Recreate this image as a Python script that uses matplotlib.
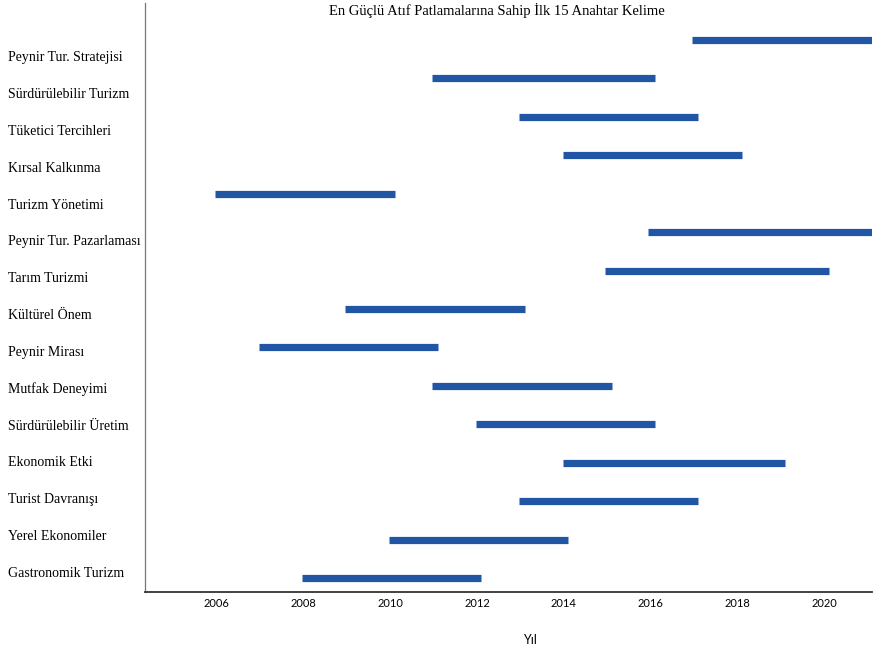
import matplotlib
matplotlib.use("Agg")
import matplotlib.pyplot as plt
import numpy as np

keywords = ['Peynir Tur. Stratejisi', 'Sürdürülebilir Turizm', 'Tüketici Tercihleri',
            'Kırsal Kalkınma', 'Turizm Yönetimi', 'Peynir Tur. Pazarlaması',
            'Tarım Turizmi', 'Kültürel Önem', 'Peynir Mirası', 'Mutfak Deneyimi',
            'Sürdürülebilir Üretim', 'Ekonomik Etki', 'Turist Davranışı',
            'Yerel Ekonomiler', 'Gastronomik Turizm']
start_years = [2016.95, 2010.97, 2012.97, 2013.97, 2005.97, 2015.95, 2014.95, 2008.95,
               2006.97, 2010.97, 2011.97, 2013.97, 2012.97, 2009.97, 2007.97]
end_years = [2021.1, 2016.1, 2017.1, 2018.1, 2010.1, 2021.1, 2020.1, 2013.1,
             2011.1, 2015.1, 2016.1, 2019.1, 2017.1, 2014.1, 2012.1]
year_ticks = [2006, 2008, 2010, 2012, 2014, 2016, 2018, 2020]

W, H = 874, 651
fig = plt.figure(figsize=(W / 100, H / 100), dpi=100)
ax = fig.add_axes([145 / W, 1 - 592 / H, 727 / W, 589 / H])

pos = np.arange(len(keywords))
ax.hlines(pos, start_years, end_years, color='#2156a5', lw=5.2, capstyle='butt')

ax.set_xlim(2004.35, 2021.1)
ax.set_ylim(14.36, -0.96)
ax.set_yticks([])
ax.set_xticks(year_ticks)
ax.set_xticklabels([str(y) for y in year_ticks], family='Lato', fontsize=8)
ax.tick_params(axis='x', length=0, pad=4)

ax.spines['top'].set_visible(False)
ax.spines['right'].set_visible(False)
ax.spines['left'].set_color('#777777')
ax.spines['left'].set_linewidth(0.9)
ax.spines['bottom'].set_color('#333333')
ax.spines['bottom'].set_linewidth(1.3)

# keyword labels sit in their own column, not lined up with the bars
for i, name in enumerate(keywords):
    fig.text(8 / W, 1 - (58 + 36.8 * i) / H, name, family='Liberation Serif',
             fontsize=10, ha='left', va='center')

fig.text(497 / W, 1 - 10 / H, 'En Güçlü Atıf Patlamalarına Sahip İlk 15 Anahtar Kelime',
         family='Liberation Serif', fontsize=10.5, ha='center', va='center')
fig.text(530 / W, 1 - 640 / H, 'Yıl', family='Lato', fontsize=9, ha='center', va='center')

fig.savefig('out.png', dpi=100)
